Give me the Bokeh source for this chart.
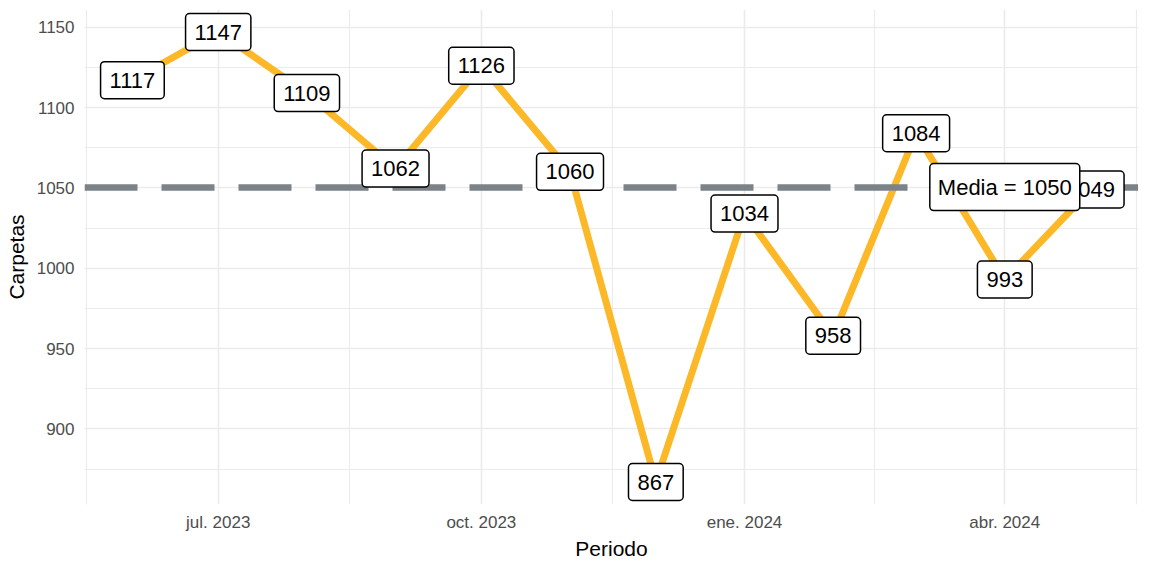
import pandas as pd
from bokeh.plotting import figure
from bokeh.models import ColumnDataSource, FixedTicker, Range1d
from bokeh.core.properties import value
from bokeh.embed import file_html
from bokeh.resources import INLINE

periodos = ["2023-06-01", "2023-07-01", "2023-08-01", "2023-09-01", "2023-10-01", "2023-11-01",
            "2023-12-01", "2024-01-01", "2024-02-01", "2024-03-01", "2024-04-01", "2024-05-01"]
carpetas = [1117, 1147, 1109, 1062, 1126, 1060, 867, 1034, 958, 1084, 993, 1049]
x_tick_dates = ["2023-07-01", "2023-10-01", "2024-01-01", "2024-04-01"]
x_tick_labels = ["jul. 2023", "oct. 2023", "ene. 2024", "abr. 2024"]
y_ticks = [900, 950, 1000, 1050, 1100, 1150]
y_minor = [875, 925, 975, 1025, 1075, 1125]

def ms(d):
    return pd.Timestamp(d).value / 1e6

xs = [ms(d) for d in periodos]
media = sum(carpetas) / len(carpetas)
media_label = f"Media = {round(media)}"

span_x = xs[-1] - xs[0]
x0 = xs[0] - 0.05 * span_x
x1 = xs[-1] + 0.05 * span_x
span_y = max(carpetas) - min(carpetas)
y0 = min(carpetas) - 0.05 * span_y
y1 = max(carpetas) + 0.05 * span_y

major_x = [ms(d) for d in x_tick_dates]
step = major_x[1] - major_x[0]
minor_x = [major_x[0] - step / 2] + [(a + b) / 2 for a, b in zip(major_x[:-1], major_x[1:])] + [major_x[-1] + step / 2]

p = figure(width=1138, height=562, x_axis_type="datetime", output_backend="svg",
           toolbar_location=None, x_range=Range1d(x0, x1), y_range=Range1d(y0, y1),
           min_border_left=84, min_border_right=0, min_border_top=9, min_border_bottom=40)
p.outline_line_color = None
p.background_fill_color = "white"

p.xaxis.ticker = FixedTicker(ticks=major_x, minor_ticks=minor_x)
p.xaxis.major_label_overrides = {t: l for t, l in zip(major_x, x_tick_labels)}
p.yaxis.ticker = FixedTicker(ticks=y_ticks, minor_ticks=y_minor)

for ax in (p.xaxis[0], p.yaxis[0]):
    ax.axis_line_color = None
    ax.major_tick_line_color = None
    ax.minor_tick_line_color = None
    ax.major_tick_out = 0
    ax.major_tick_in = 0
    ax.minor_tick_out = 0
    ax.minor_tick_in = 0
    ax.major_label_text_font = "Liberation Sans"
    ax.major_label_text_font_size = "17px"
    ax.major_label_text_color = "#4D4D4D"
    ax.axis_label_text_font = "Liberation Sans"
    ax.axis_label_text_font_size = "21px"
    ax.axis_label_text_font_style = "normal"
    ax.axis_label_text_color = "#000000"
p.xaxis.axis_label = "Periodo"
p.yaxis.axis_label = "Carpetas"
p.xaxis.major_label_standoff = 8
p.xaxis.axis_label_standoff = 2
p.yaxis.major_label_standoff = 10
p.yaxis.axis_label_standoff = 6

for g in (p.xgrid[0], p.ygrid[0]):
    g.grid_line_color = "#EBEBEB"
    g.grid_line_width = 1.6
    g.minor_grid_line_color = "#EBEBEB"
    g.minor_grid_line_width = 1.1

src = ColumnDataSource(dict(x=xs, y=carpetas, lab=[str(v) for v in carpetas]))
p.line("x", "y", source=src, line_color="#FCB827", line_width=7, line_join="round")

p.hspan(y=[media], line_color="#7B8389", line_width=6.5, line_dash="53 24")

p.text("x", "y", text="lab", source=src, text_font=value("Liberation Sans"),
       text_font_size=value("22px"), text_color="black", text_align="center",
       text_baseline="middle", background_fill_color="white", border_line_color="black",
       border_line_width=1.5, padding=(9, 11), border_radius=4)

msrc = ColumnDataSource(dict(x=[major_x[-1]], y=[media], lab=[media_label]))
p.text("x", "y", text="lab", source=msrc, text_font=value("Liberation Sans"),
       text_font_size=value("22px"), text_color="black", text_align="center",
       text_baseline="middle", background_fill_color="white", border_line_color="black",
       border_line_width=1.5, padding=(8, 11), border_radius=4)

open("out.html", "w").write(file_html(p, INLINE))
